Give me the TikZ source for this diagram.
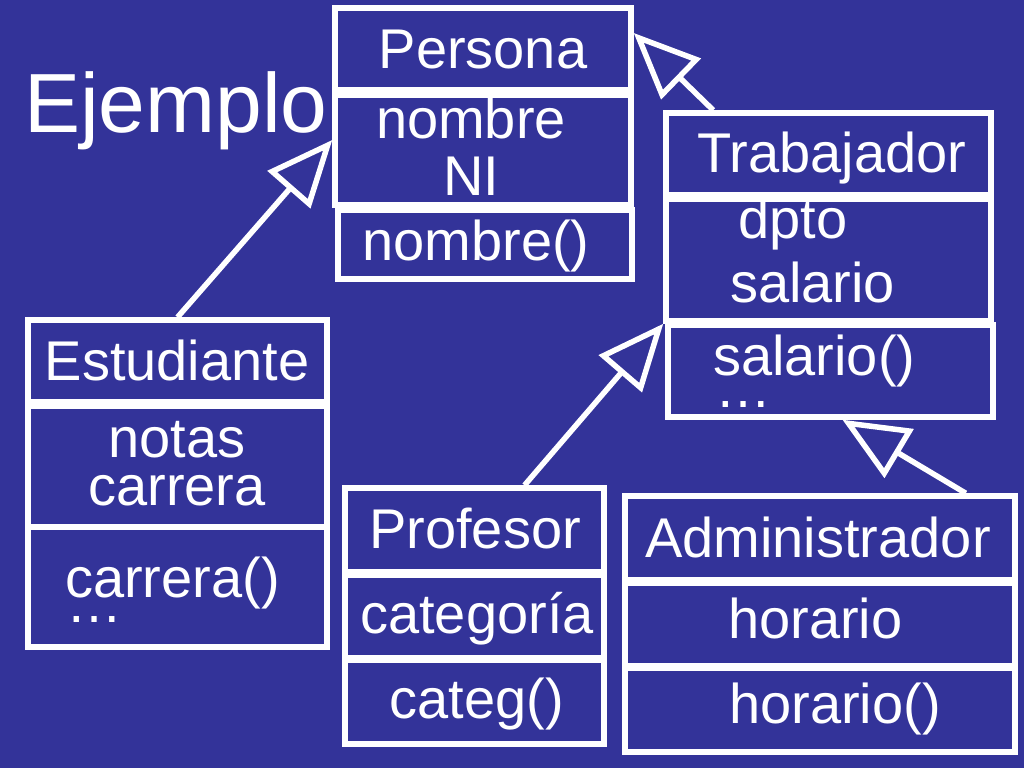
\documentclass[tikz,border=0pt]{standalone}
\usepackage{fontspec}
\setmainfont{Liberation Sans}
\usepackage{xcolor}
\usepackage{tikz}
\usetikzlibrary{arrows.meta}
\definecolor{bgblue}{RGB}{51,51,153}

\begin{document}
\begin{tikzpicture}[
    x=1pt, y=-1pt,
    cmp/.style 2 args={draw=white, line width=5.5pt, inner sep=0pt,
                       minimum width=#1, minimum height=#2},
    txt/.style={text=white, inner sep=0pt, font=\fontsize{56}{60}\selectfont},
    inh/.style={-{Triangle[open,length=66pt,width=56pt]}, draw=white, line width=5.5pt},
  ]
    \fill[bgblue] (0,0) rectangle (1024,768);
    \useasboundingbox (0,0) rectangle (1024,768);

    % --- Persona ---
    \node[cmp={296pt}{82pt}]  (pname) at (483,49)    {};
    \node[cmp={296pt}{110pt}] (pattr) at (483,150)   {};
    \node[cmp={294pt}{69pt}]  (pmeth) at (485,244.5) {};

    % --- Trabajador ---
    \node[cmp={325pt}{82pt}]  (tname) at (828.5,154) {};
    \node[cmp={325pt}{122pt}] (tattr) at (828.5,260) {};
    \node[cmp={325pt}{92pt}]  (tmeth) at (830.5,371) {};

    % --- Estudiante ---
    \node[cmp={299pt}{82pt}]  (ename) at (177.5,361)   {};
    \node[cmp={299pt}{121pt}] (eattr) at (177.5,466.5) {};
    \node[cmp={299pt}{120pt}] (emeth) at (177.5,587)   {};

    % --- Profesor ---
    \node[cmp={259pt}{84pt}] (fname) at (474.5,530)   {};
    \node[cmp={259pt}{83pt}] (fattr) at (474.5,616.5) {};
    \node[cmp={259pt}{84pt}] (fmeth) at (474.5,702)   {};

    % --- Administrador ---
    \node[cmp={390pt}{84pt}] (aname) at (820,538)   {};
    \node[cmp={390pt}{83pt}] (aattr) at (820,624.5) {};
    \node[cmp={390pt}{84pt}] (ameth) at (820,710)   {};

    % --- Texts ---
    \node[txt, anchor=base west, font=\fontsize{84}{90}\selectfont] (title) at (24,132) {Ejemplo};

    \node[txt, anchor=base] (lpname)  at (483,68)  {Persona};
    \node[txt, anchor=base] (lpattr1) at (471,138) {nombre};
    \node[txt, anchor=base] (lpattr2) at (471,195) {NI};
    \node[txt, anchor=base] (lpmeth)  at (476,260) {nombre()};

    \node[txt, anchor=base]      (ltname)  at (832,172) {Trabajador};
    \node[txt, anchor=base west] (ltattr1) at (738,238) {dpto};
    \node[txt, anchor=base west] (ltattr2) at (730,302) {salario};
    \node[txt, anchor=base west] (ltmeth1) at (713,375) {salario()};
    \node[txt, anchor=base west] (ltmeth2) at (715,407) {…};

    \node[txt, anchor=base]      (lename)  at (177,380) {Estudiante};
    \node[txt, anchor=base]      (leattr1) at (177,457) {notas};
    \node[txt, anchor=base]      (leattr2) at (177,505) {carrera};
    \node[txt, anchor=base west] (lemeth1) at (65,597)  {carrera()};
    \node[txt, anchor=base west] (lemeth2) at (66,622)  {…};

    \node[txt, anchor=base] (lfname) at (475,548) {Profesor};
    \node[txt, anchor=base] (lfattr) at (477,633) {categoría};
    \node[txt, anchor=base] (lfmeth) at (477,718) {categ()};

    \node[txt, anchor=base]      (laname) at (818,557) {Administrador};
    \node[txt, anchor=base west] (laattr) at (728,638) {horario};
    \node[txt, anchor=base west] (lameth) at (729,723) {horario()};

    % --- Inheritance ---
    \draw[inh] (ename.north) -- ([yshift=10pt]pattr.west);
    \draw[inh] ([xshift=50pt]tname.north west) -- ([yshift=16pt]pname.east);
    \draw[inh] ([xshift=50pt]fname.north) -- (tattr.south west);
    \draw[inh] ([xshift=-52pt]aname.north east) -- ([xshift=12pt]tmeth.south);
\end{tikzpicture}
\end{document}
